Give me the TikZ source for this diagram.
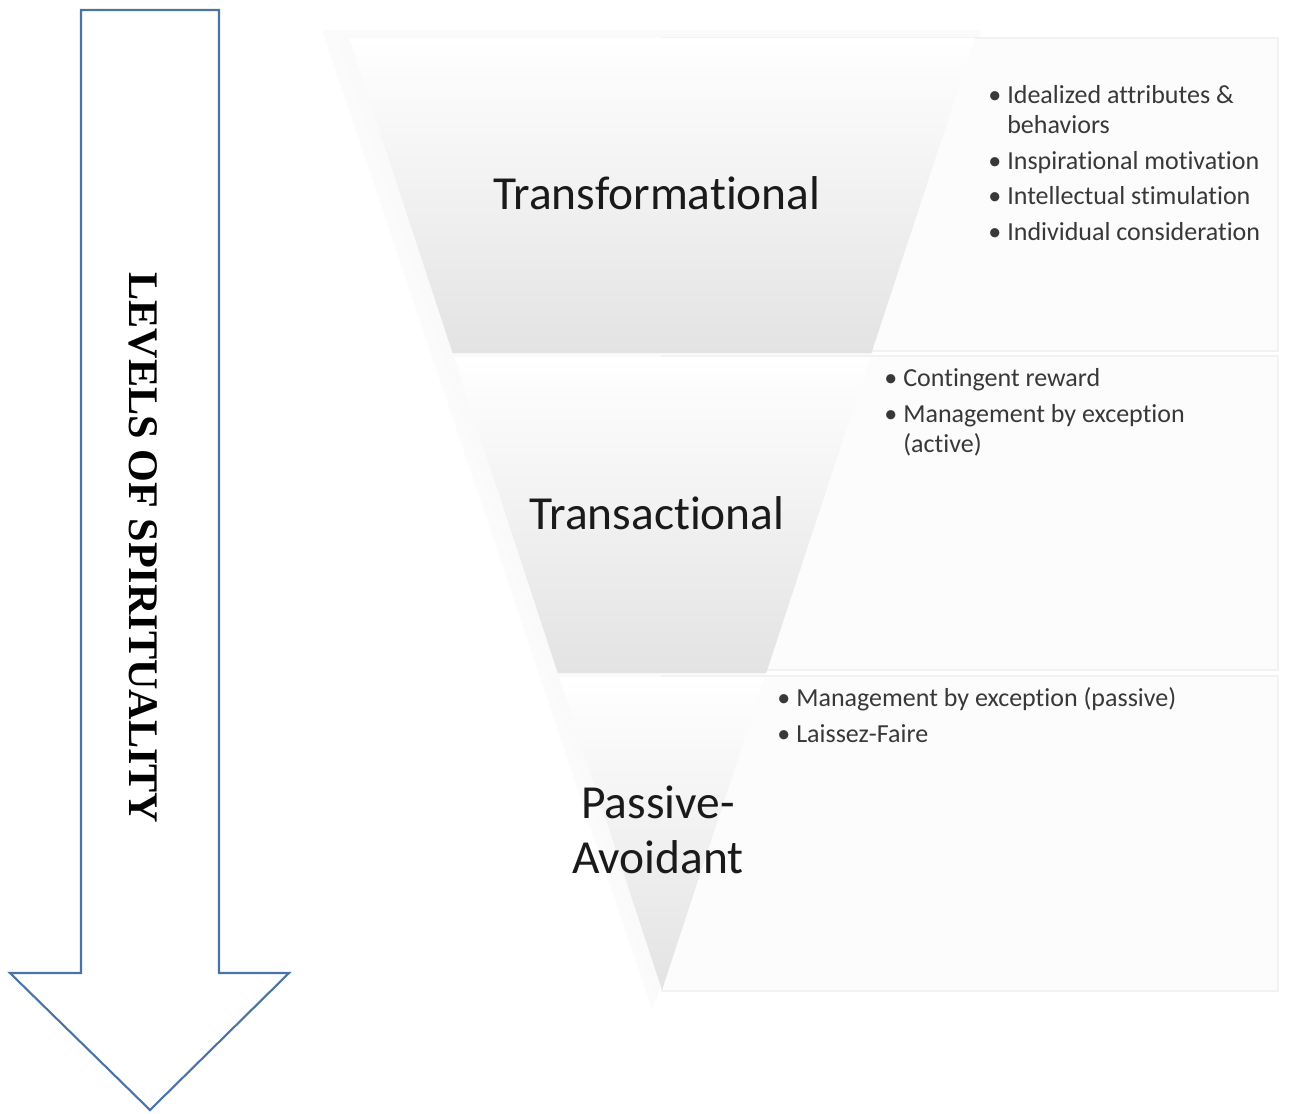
\documentclass[tikz,border=0pt]{standalone}
\usepackage{fontspec}
\setmainfont{Carlito}[Ligatures=NoCommon]
\newfontfamily\serifbf{Liberation Serif}
\usetikzlibrary{calc}
\definecolor{cArrow}{HTML}{4A74A5}
\definecolor{cInk}{HTML}{1A1A1A}
\definecolor{cList}{HTML}{383838}
\definecolor{cBox}{HTML}{FCFCFC}
\definecolor{cBoxLine}{HTML}{F2F2F2}
\tikzset{
  band/.style={top color=white, middle color=black!2, bottom color=black!11},
  listbox/.style={fill=cBox, draw=cBoxLine, line width=0.6pt},
  level/.style={font=\fontsize{27}{31}\selectfont, text=cInk, align=center, inner sep=0pt},
  items/.style={font=\fontsize{14.8}{17}\selectfont, text=cList, anchor=north west,
                inner sep=0pt, align=left},
  bigarrow/.style={draw=cArrow, line width=1.2pt, fill=white, line join=miter}
}
\newcommand{\bul}{\makebox[10.8pt][l]{\textbullet}}
\newcommand{\hang}{\hspace*{10.8pt}}

\begin{document}
\begin{tikzpicture}[x=0.02cm, y=-0.02cm]
\useasboundingbox (0,0) rectangle (1302,1113);
% big down arrow with its caption
\draw[bigarrow] (81,10) -- (219,10) -- (219,973) -- (289,973) -- (150,1110) -- (10,973) -- (81,973) -- cycle;
\node[rotate=-90, font=\serifbf\bfseries\fontsize{24}{28}\selectfont] (spirit) at (143,548) {LEVELS OF SPIRITUALITY};
% soft shadow left of the funnel
\fill[black!1.5] (322,30) -- (982,30) -- (652,1010) -- cycle;
\fill[black!2] (336,34) -- (978,34) -- (656,1000) -- cycle;
% pale panels holding the lists
\foreach \ya/\yb in {38/351, 356/670, 676/991}
  \filldraw[listbox] (662,\ya) rectangle (1278,\yb);
% funnel, three bands
\coordinate (tl) at (349,38);
\coordinate (tr) at (975,38);
\coordinate (tip) at (662,990);
\foreach \a/\b in {0/0.331, 0.335/0.667, 0.671/1}
  \shade[band] ($(tl)!\a!(tip)$) -- ($(tr)!\a!(tip)$) -- ($(tr)!\b!(tip)$) -- ($(tl)!\b!(tip)$) -- cycle;
% level names
\node[level] (transf) at (657,193) {Transformational};
\node[level] (transa) at (657,513) {Transactional};
\node[level] (passive) at (658,830) {Passive-\\Avoidant};
% bullet lists
\node[items] (transfList) at (988,85)
  {\bul Idealized attributes \&\\ \hang behaviors\\[3.4pt] \bul Inspirational motivation\\[3.4pt]
   \bul Intellectual stimulation\\[3.4pt] \bul Individual consideration};
\node[items] (transaList) at (884,368)
  {\bul Contingent reward\\[3.4pt] \bul Management by exception\\ \hang (active)};
\node[items] (passiveList) at (777,687)
  {\bul Management by exception (passive)\\[3.4pt] \bul Laissez-Faire};
\end{tikzpicture}
\end{document}
